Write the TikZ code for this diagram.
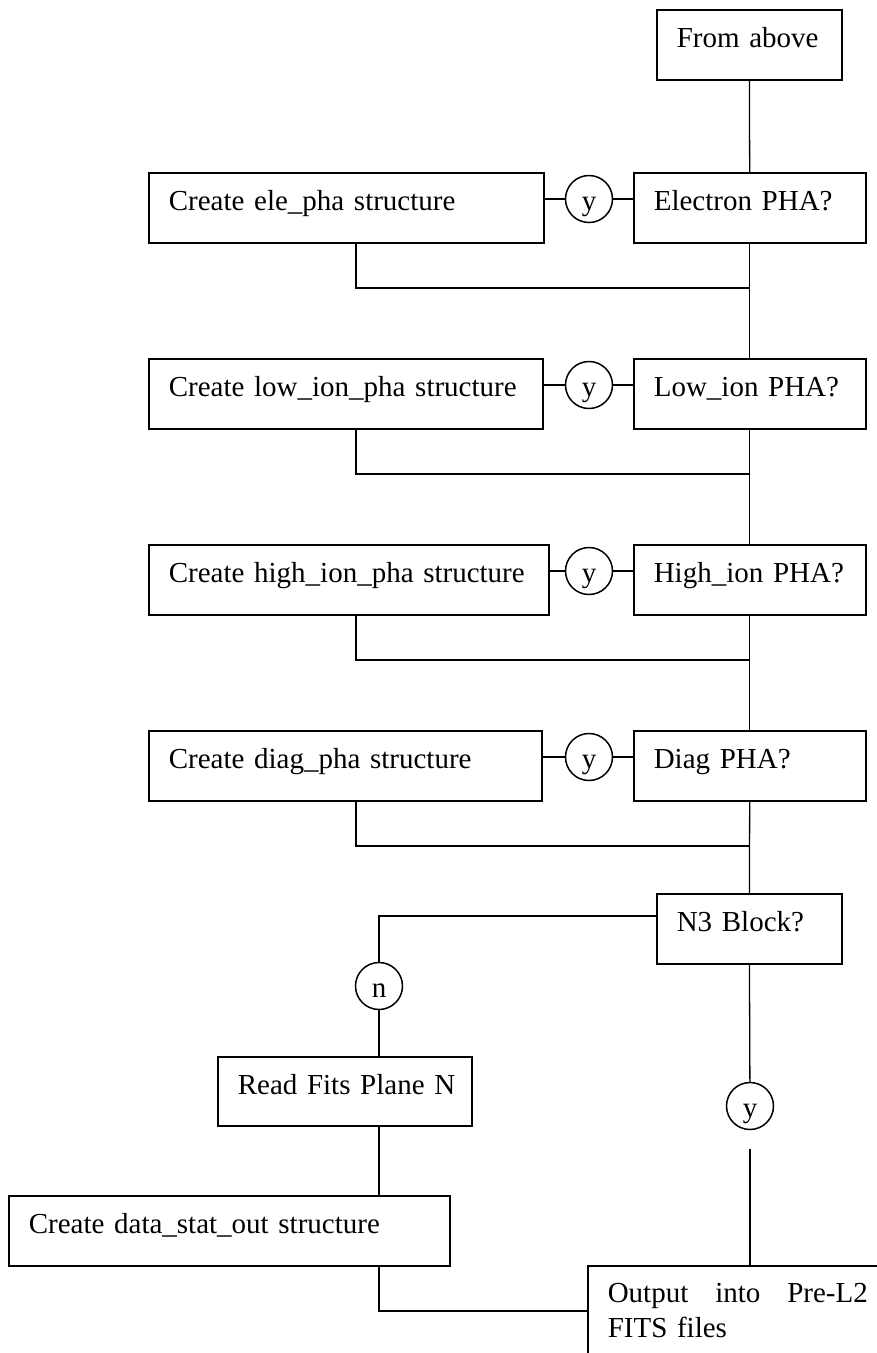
\documentclass[tikz,border=0pt]{standalone}
\usepackage{fontspec}
\setmainfont{Liberation Serif}

\tikzset{
  box/.style={draw,line width=1.6pt,inner xsep=20pt,inner ysep=0pt,
    text height=38pt,text depth=32pt,align=left,anchor=north west},
  ans/.style={draw,circle,line width=1.5pt,minimum size=47pt,inner sep=0pt,
    text height=22pt,text depth=0pt},
  link/.style={line width=1.3pt}
}

\begin{document}
\begin{tikzpicture}[x=1pt,y=-1pt,font=\fontsize{29}{35}\selectfont]
            \useasboundingbox (0,0) rectangle (877,1353);

            \node[box,text width=145pt] (above) at (656,9){From above};

            \node[box,text width=355pt] (ele) at (148,172){Create ele\_pha structure};
            \node[ans] (y1) at (589,199){y};
            \node[box,text width=192pt] (eleq) at (633,172){Electron PHA?};

            \node[box,text width=354pt] (low) at (148,358){Create low\_ion\_pha structure};
            \node[ans] (y2) at (589,385){y};
            \node[box,text width=192pt] (lowq) at (633,358){Low\_ion PHA?};

            \node[box,text width=360pt] (high) at (148,544){Create high\_ion\_pha structure};
            \node[ans] (y3) at (589,571){y};
            \node[box,text width=192pt] (highq) at (633,544){High\_ion PHA?};

            \node[box,text width=353pt] (diag) at (148,730){Create diag\_pha structure};
            \node[ans] (y4) at (589,757){y};
            \node[box,text width=192pt] (diagq) at (633,730){Diag PHA?};

            \node[box,text width=145pt] (n3) at (656,893){N3 Block?};
            \node[ans] (no) at (379,986){n};
            \node[box,inner xsep=10pt,text width=234pt,text depth=31pt] (fits) at (217,1056){\hspace{10pt}Read Fits Plane N};
            \node[box,text width=401pt] (stat) at (8,1195){Create data\_stat\_out structure};
            \node[ans] (yes) at (750,1106){y};
            \node[box,text width=260pt,text height=37pt,text depth=120pt] (out) at (587,1265)
                {Output\hfill into\hfill Pre-L2\\FITS files};

            \coordinate (m1) at (749,288);
            \coordinate (m2) at (749,474);
            \coordinate (m3) at (749,660);
            \coordinate (m4) at (749,846);
            \coordinate (cut) at (750,1149);

            \draw[link] (above) -- (eleq);
            \draw[link] (eleq) -- (lowq);
            \draw[link] (lowq) -- (highq);
            \draw[link] (highq) -- (diagq);
            \draw[link] (diagq) -- (n3);

            \draw[link] (ele.east |- y1) -- (y1) -- (y1 -| eleq.west);
            \draw[link] (low.east |- y2) -- (y2) -- (y2 -| lowq.west);
            \draw[link] (high.east |- y3) -- (y3) -- (y3 -| highq.west);
            \draw[link] (diag.east |- y4) -- (y4) -- (y4 -| diagq.west);

            \draw[link] ([xshift=208pt]ele.south west) |- (m1);
            \draw[link] ([xshift=208pt]low.south west) |- (m2);
            \draw[link] ([xshift=208pt]high.south west) |- (m3);
            \draw[link] ([xshift=208pt]diag.south west) |- (m4);

            \draw[link] ([yshift=-23pt]n3.north west) -| (no);
            \draw[link] (no) -- (no |- fits.north);
            \draw[link] (no |- fits.south) -- (no |- stat.north);
            \draw[link] (no |- stat.south) |- ([yshift=-46pt]out.north west);
            \draw[link] (n3) -- (yes);
            \draw[link] (cut) -- (cut |- out.north);
\end{tikzpicture}
\end{document}
